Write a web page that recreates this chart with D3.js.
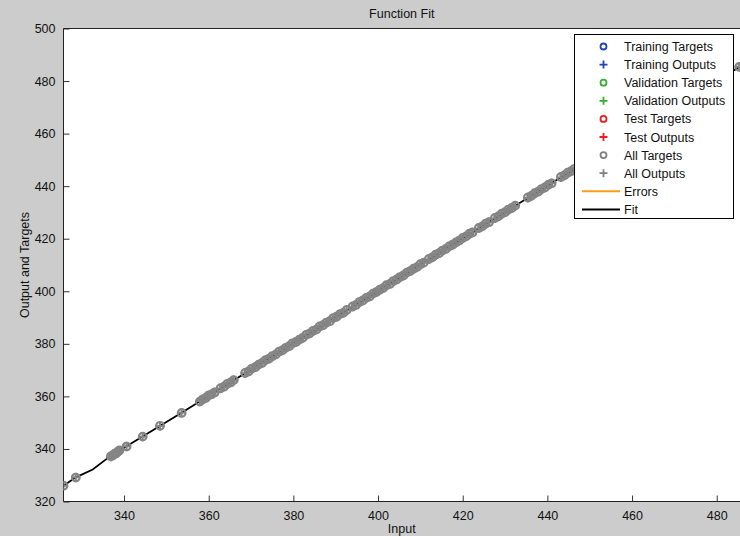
<!DOCTYPE html>
<html><head><meta charset="utf-8">
<script src="https://cdn.jsdelivr.net/npm/d3@7"></script>
<style>
html,body{margin:0;padding:0;background:#cccccc;}
svg{display:block;font-family:"Liberation Sans",Arial,sans-serif;}
</style></head>
<body>
<svg id="chart" width="740" height="536"></svg>
<script>
const title = "Function Fit";
const xLabel = "Input";
const yLabel = "Output and Targets";
const xTicks = [340, 360, 380, 400, 420, 440, 460, 480];
const yTicks = [320, 340, 360, 380, 400, 420, 440, 460, 480, 500];

const inputs = [325.7,328.6,336.9,337.3,337.7,338.1,338.5,338.9,340.6,344.4,348.5,353.6,
357.9,358.6,359.3,360.0,360.7,361.4,362.8,363.6,364.4,365.2,365.9,
368.6,369.4,370.2,371.0,371.8,372.6,373.4,374.2,375.0,375.8,376.6,377.4,378.2,379.0,379.8,
380.6,381.4,382.2,383.0,383.8,384.6,385.4,386.2,387.0,387.8,388.6,389.4,390.2,391.0,391.8,392.6,
394.0,394.8,395.6,396.4,397.2,398.0,398.8,399.6,400.4,401.2,402.0,402.8,403.6,404.4,405.2,406.0,
406.8,407.6,408.4,409.2,410.0,410.8,412.0,412.8,413.6,414.4,415.2,416.0,416.8,417.6,418.4,419.2,
420.0,420.8,421.6,422.3,423.8,424.6,425.4,426.2,427.6,428.4,429.2,430.0,430.8,431.6,432.4,
435.4,436.2,437.0,437.8,438.6,439.4,440.2,441.0,443.2,444.0,444.8,445.6,446.4,485.3];

const targets = [326.0,329.1,337.2,337.5,338.1,338.3,338.9,339.4,340.9,344.7,348.8,353.7,
358.0,358.9,359.4,360.4,360.8,361.5,363.1,363.7,364.8,365.3,366.2,
368.9,369.5,370.6,371.1,372.1,372.7,373.8,374.3,375.3,375.9,377.0,377.5,378.5,379.1,380.2,
380.7,381.6,382.3,383.4,383.9,384.9,385.4,386.6,387.1,388.1,388.6,389.8,390.3,391.3,391.8,392.9,
394.2,394.8,395.9,396.5,397.5,398.0,399.1,399.7,400.6,401.2,402.3,402.8,403.9,404.5,405.4,406.0,
407.1,407.7,408.6,409.2,410.3,410.9,412.3,412.9,413.9,414.5,415.5,416.1,417.1,417.7,418.6,419.3,
420.3,420.9,421.9,422.4,424.1,424.7,425.7,426.3,427.9,428.5,429.5,430.1,431.1,431.7,432.6,
435.7,436.3,437.3,437.9,438.9,439.5,440.5,441.1,443.5,444.1,445.1,445.7,446.6,485.4];

const outputs = [326.0,329.2,337.0,337.6,337.9,338.4,338.8,339.3,341.0,344.6,348.7,353.8,
358.2,358.8,359.6,360.2,360.9,361.6,363.0,363.8,364.6,365.4,366.1,
368.8,369.6,370.4,371.2,372.0,372.8,373.6,374.4,375.2,376.0,376.8,377.6,378.4,379.2,380.0,
380.8,381.5,382.3,383.1,383.9,384.7,385.5,386.3,387.1,387.9,388.7,389.5,390.3,391.1,391.9,392.7,
394.1,394.9,395.7,396.5,397.3,398.1,398.9,399.7,400.5,401.3,402.1,402.9,403.7,404.5,405.3,406.1,
406.9,407.7,408.5,409.3,410.1,410.9,412.1,412.9,413.7,414.5,415.3,416.1,416.9,417.7,418.5,419.3,
420.1,420.9,421.7,422.4,423.9,424.7,425.5,426.3,427.7,428.5,429.3,430.1,430.9,431.7,432.5,
435.5,436.3,437.1,437.9,438.7,439.5,440.3,441.1,443.3,444.1,444.9,445.7,446.5,485.4];

const fitX = [325.7,328.6,332.6,336.2,340.6,353.6,366.0,380.0,400.0,420.0,440.0,460.0,485.5];
const fitY = [326.0,329.2,332.2,336.6,341.0,353.8,366.2,380.1,400.1,420.1,440.2,460.2,485.5];

const legendItems = [
  {label:"Training Targets", type:"o", color:"#2244bb"},
  {label:"Training Outputs", type:"+", color:"#2244bb"},
  {label:"Validation Targets", type:"o", color:"#33b033"},
  {label:"Validation Outputs", type:"+", color:"#33b033"},
  {label:"Test Targets", type:"o", color:"#ee1c1c"},
  {label:"Test Outputs", type:"+", color:"#ee1c1c"},
  {label:"All Targets", type:"o", color:"#808080"},
  {label:"All Outputs", type:"+", color:"#808080"},
  {label:"Errors", type:"line", color:"#ff9a1a"},
  {label:"Fit", type:"line", color:"#000000"}
];

const svg = d3.select("#chart");
const L = 63.5, R = 740, T = 28.5, B = 501.5;
const x = d3.scaleLinear().domain([325.7, 485.5]).range([L, R]);
const y = d3.scaleLinear().domain([320, 500]).range([B, T]);

svg.append("rect").attr("x",0).attr("y",0).attr("width",740).attr("height",536).attr("fill","#cccccc");
svg.append("rect").attr("x",L).attr("y",T).attr("width",R-L).attr("height",B-T).attr("fill","#ffffff");

svg.append("defs").append("clipPath").attr("id","clip")
  .append("rect").attr("x",L).attr("y",T).attr("width",R-L).attr("height",B-T);

// axes (ticks inward)
const xAxis = d3.axisBottom(x).tickValues(xTicks).tickSize(-6).tickPadding(10).tickFormat(d3.format("d"));
const yAxis = d3.axisLeft(y).tickValues(yTicks).tickSize(-6).tickPadding(8).tickFormat(d3.format("d"));
const gx = svg.append("g").attr("transform",`translate(0,${B})`).call(xAxis);
const gy = svg.append("g").attr("transform",`translate(${L},0)`).call(yAxis);
[gx, gy].forEach(g => {
  g.select(".domain").remove();
  g.selectAll(".tick line").attr("stroke","#333");
  g.selectAll(".tick text").attr("fill","#111").style("font-size","12.5px");
});
svg.append("line").attr("x1",L).attr("x2",R).attr("y1",B).attr("y2",B).attr("stroke","#222");
svg.append("line").attr("x1",L).attr("x2",L).attr("y1",T).attr("y2",B).attr("stroke","#222");
svg.append("line").attr("x1",L).attr("x2",R).attr("y1",T).attr("y2",T).attr("stroke","#222");

const plot = svg.append("g").attr("clip-path","url(#clip)");

// fit line
const fitData = fitX.map((v,i)=>[v, fitY[i]]);
plot.append("path").datum(fitData)
  .attr("d", d3.line().x(d=>x(d[0])).y(d=>y(d[1])))
  .attr("fill","none").attr("stroke","#000").attr("stroke-width",1.8);

// targets (circles) and outputs (plus)
const pts = inputs.map((v,i)=>({x:v, t:targets[i], o:outputs[i]}));
plot.selectAll("circle.tg").data(pts).join("circle").attr("class","tg")
  .attr("cx",d=>x(d.x)).attr("cy",d=>y(d.t)).attr("r",3.8)
  .attr("fill","none").attr("stroke","#858585").attr("stroke-width",2.2);
plot.selectAll("path.op").data(pts).join("path").attr("class","op")
  .attr("d",d=>{const cx=x(d.x), cy=y(d.o); return `M${cx-4.5},${cy}H${cx+4.5}M${cx},${cy-4.5}V${cy+4.5}`;})
  .attr("fill","none").attr("stroke","#858585").attr("stroke-width",2);

// title & labels
svg.append("text").attr("x",(L+R)/2).attr("y",18).attr("text-anchor","middle")
  .style("font-size","12.5px").attr("fill","#111").text(title);
svg.append("text").attr("x",(L+R)/2).attr("y",533).attr("text-anchor","middle")
  .style("font-size","12.5px").attr("fill","#111").text(xLabel);
svg.append("text").attr("transform",`translate(29,${(T+B)/2}) rotate(-90)`).attr("text-anchor","middle")
  .style("font-size","12.5px").attr("fill","#111").text(yLabel);

// legend
const lg = svg.append("g");
const lx = 574.5, ly = 34.5, lw = 159, lh = 184;
lg.append("rect").attr("x",lx).attr("y",ly).attr("width",lw).attr("height",lh)
  .attr("fill","#fff").attr("stroke","#000").attr("stroke-width",1);
legendItems.forEach((it,i)=>{
  const cy = 46.5 + i*18.1;
  const mx = 603.5;
  if(it.type==="o"){
    lg.append("circle").attr("cx",mx).attr("cy",cy).attr("r",3).attr("fill","none")
      .attr("stroke",it.color).attr("stroke-width",1.8);
  } else if(it.type==="+"){
    lg.append("path").attr("d",`M${mx-4},${cy}H${mx+4}M${mx},${cy-4}V${cy+4}`)
      .attr("stroke",it.color).attr("stroke-width",1.8).attr("fill","none");
  } else {
    lg.append("line").attr("x1",582).attr("x2",620).attr("y1",cy).attr("y2",cy)
      .attr("stroke",it.color).attr("stroke-width",2);
  }
  lg.append("text").attr("x",624).attr("y",cy+4.5).style("font-size","12.5px").attr("fill","#111").text(it.label);
});
</script>
</body></html>
